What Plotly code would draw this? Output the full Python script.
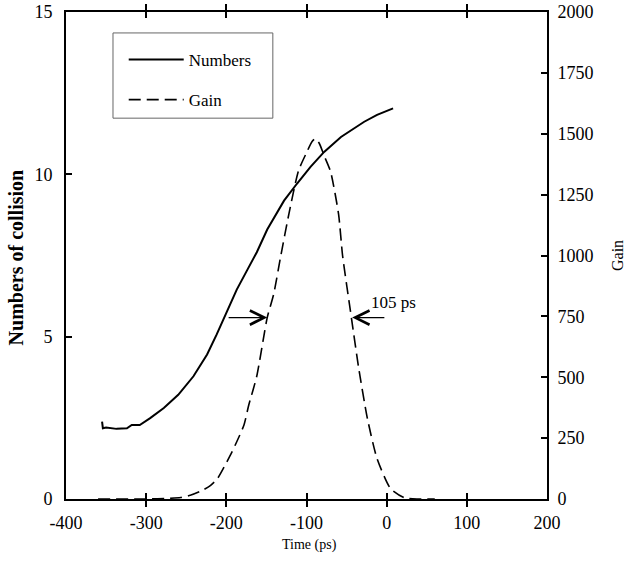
import plotly.graph_objects as go

# Numbers of collision (solid)
num_x = [-355, -354, -350, -337, -324, -318, -308, -295, -278, -260, -241, -224, -212,
         -200, -187, -174, -162, -149, -128, -112, -95, -78, -57, -28, -12, 8]
num_y = [2.38, 2.18, 2.2, 2.16, 2.18, 2.28, 2.28, 2.49, 2.80, 3.21, 3.78, 4.45, 5.07,
         5.74, 6.45, 7.05, 7.6, 8.3, 9.19, 9.71, 10.23, 10.69, 11.15, 11.62, 11.83, 12.03]

# Gain (dashed)
gain_x = [-360, -300, -270, -257, -245, -232, -220, -211, -195, -187, -178, -172, -162,
          -149, -141, -132, -122, -110, -101, -93, -89, -84, -78, -70, -60, -55, -44,
          -35, -24, -12, 5, 22, 40, 60]
gain_y = [0, 0, 3, 6, 15, 32, 55, 84, 180, 235, 304, 386, 505,
          745, 840, 1000, 1170, 1348, 1415, 1468, 1480, 1460, 1410, 1345, 1170, 1000, 745,
          540, 330, 166, 42, 5, 0, 0]

x_ticks = [-400, -300, -200, -100, 0, 100, 200]
x_tick_text = ["-400", "-300", "-200", "-100", "0", "100", "200"]
y_left_ticks = [0, 5, 10, 15]
y_right_ticks = [0, 250, 500, 750, 1000, 1250, 1500, 1750, 2000]

half_max = 745
fwhm_left, fwhm_right = -149, -43
fwhm_label = "105 ps"

FONT = "Liberation Serif"

fig = go.Figure()
fig.add_trace(go.Scatter(x=num_x, y=num_y, mode="lines", name="Numbers",
                         line=dict(color="black", width=2), legendgroup="a"))
fig.add_trace(go.Scatter(x=gain_x, y=gain_y, mode="lines", name="Gain", yaxis="y2",
                         line=dict(color="black", width=1.6, dash="12px,6px",
                                   shape="spline", smoothing=0.6),
                         legendgroup="b"))

axis_common = dict(showline=True, linecolor="black", linewidth=2, ticks="inside",
                   tickcolor="black", ticklen=6, tickwidth=1.5, showgrid=False,
                   zeroline=False, automargin=False,
                   tickfont=dict(family=FONT, size=18, color="black"))

fig.update_layout(
    width=626, height=569,
    margin=dict(l=66, r=79, t=12, b=70),
    plot_bgcolor="white", paper_bgcolor="white",
    font=dict(family=FONT, color="black"),
    xaxis=dict(range=[-400, 200], tickvals=x_ticks, ticktext=x_tick_text,
               mirror="allticks", ticklabelstandoff=6, **axis_common),
    yaxis=dict(range=[0, 15], tickvals=y_left_ticks, ticklabelstandoff=8, **axis_common),
    yaxis2=dict(range=[0, 2000], tickvals=y_right_ticks, overlaying="y", side="right",
                ticklabelstandoff=5, **axis_common),
    showlegend=True,
    legend=dict(x=0.120, y=0.9384, xanchor="left", yanchor="top",
                bgcolor="rgba(0,0,0,0)", borderwidth=0,
                font=dict(family=FONT, size=17, color="black"),
                traceorder="grouped", tracegroupgap=15, itemwidth=55),
    shapes=[dict(type="rect", xref="paper", yref="paper", x0=0.0977, x1=0.430,
                 y0=0.782, y1=0.957, line=dict(color="#666", width=1))],
)

ann = [
    dict(x=fwhm_left, y=half_max, xref="x", yref="y2", ax=-199, ay=half_max,
         axref="x", ayref="y2", showarrow=True, arrowhead=5, arrowsize=2,
         arrowwidth=1.4, arrowcolor="black", text=""),
    dict(x=fwhm_right, y=half_max, xref="x", yref="y2", ax=-1, ay=half_max,
         axref="x", ayref="y2", showarrow=True, arrowhead=5, arrowsize=2,
         arrowwidth=1.4, arrowcolor="black", text=""),
    dict(x=-22, y=805, xref="x", yref="y2", text=fwhm_label, showarrow=False,
         xanchor="left", yanchor="middle", font=dict(family=FONT, size=17)),
    dict(x=0.507, y=-0.0945, xref="paper", yref="paper", text="Time (ps)",
         showarrow=False, xanchor="center", yanchor="middle",
         font=dict(family=FONT, size=14)),
    dict(x=-0.102, y=0.496, xref="paper", yref="paper", text="<b>Numbers of collision</b>",
         showarrow=False, textangle=-90, xanchor="center", yanchor="middle",
         font=dict(family=FONT, size=20)),
    dict(x=1.1455, y=0.501, xref="paper", yref="paper", text="Gain",
         showarrow=False, textangle=-90, xanchor="center", yanchor="middle",
         font=dict(family=FONT, size=16)),
]
fig.update_layout(annotations=ann)

fig.write_html("out.html")
